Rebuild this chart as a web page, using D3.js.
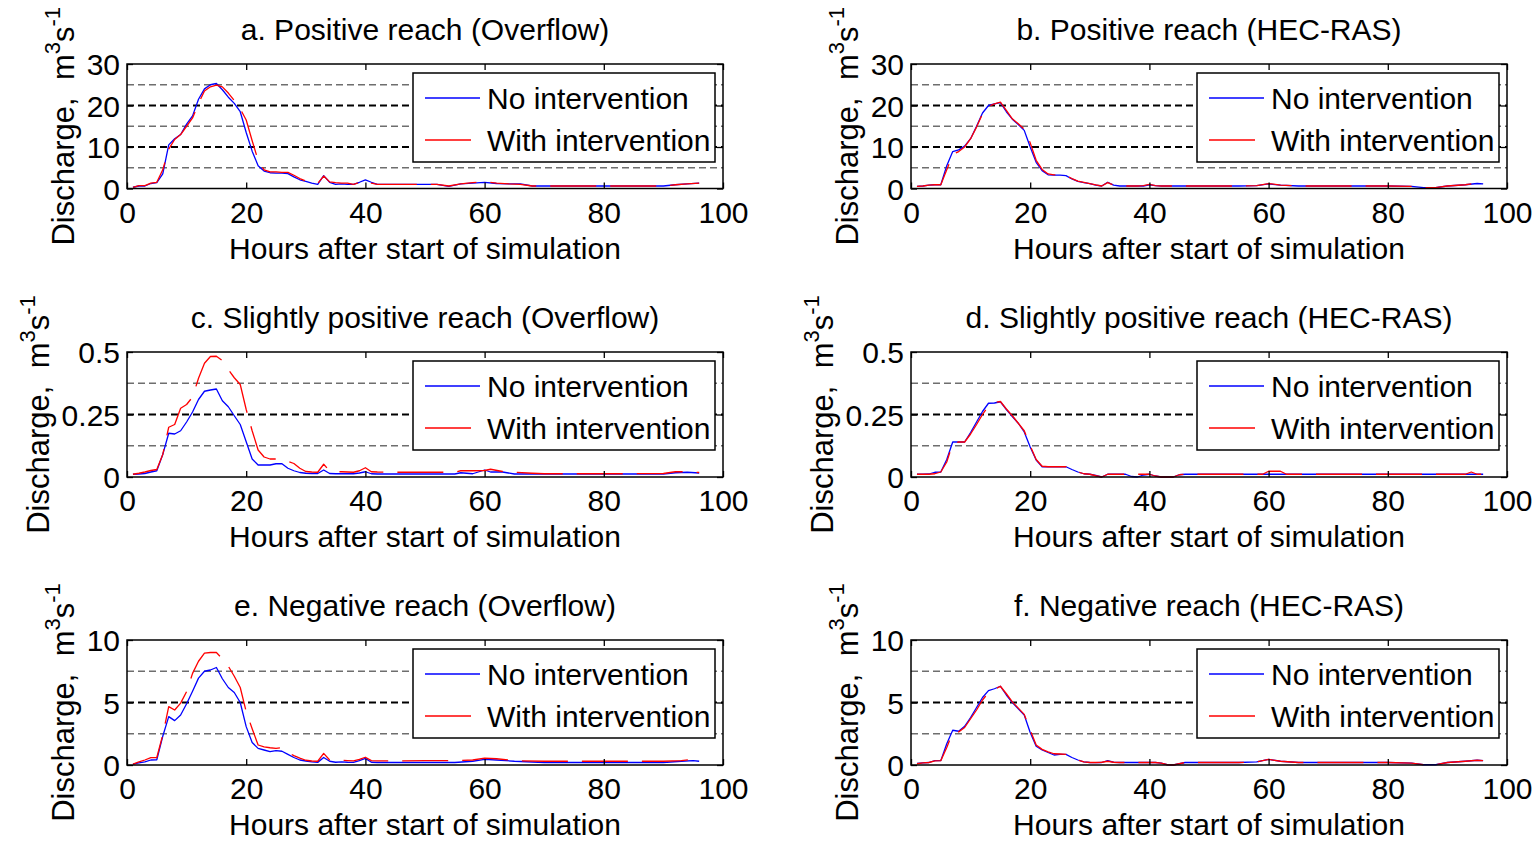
<!DOCTYPE html>
<html><head><meta charset="utf-8">
<script src="https://cdn.jsdelivr.net/npm/d3@7"></script>
<style>
body{margin:0;background:#fff}
svg{display:block}
text{font-family:"Liberation Sans",Arial,Helvetica,sans-serif;fill:#000}
</style>
</head><body>
<svg id="chart" width="1539" height="841"></svg>
<script>
// ---------------- DATA ----------------
const xTicks = [0, 20, 40, 60, 80, 100];
const seriesNames = ["No intervention", "With intervention"];
const xLabel = "Hours after start of simulation";

// Panel a
const hoursA = [1,2,3,4,5,6,7,8,9,10,11,12,13,14,15,16,17,18,19,20,21,22,23,24,25,26,27,28,29,30,31,32,33,34,35,36,37,38,39,40,41,42,50,52,54,56,58,60,62,64,66,68,75,80,85,90,92,94,96];
const noIntA = [0.3,0.6,0.6,1.2,1.4,3.5,10.5,12,13,15.5,17.5,21.5,24,25,25.3,23.8,22,20.5,18.5,13.5,9,5.5,4.2,3.8,3.7,3.7,3.6,2.8,2.1,1.7,1.3,1.0,3.1,1.5,1.0,1.1,1.0,1.0,1.5,2.1,1.5,1.0,
  1.0,1.0,0.5,1.1,1.3,1.5,1.2,1.1,1.1,0.6,0.6,0.6,0.6,0.6,0.9,1.1,1.3];
const withIntA = [0.3,0.7,0.7,1.3,1.5,4.5,9.5,11.8,13,15,17,20.5,23.5,24.5,24.9,24.5,23,21.2,19.2,16.5,11.5,6.8,4.5,4,4,3.9,3.9,3.2,2.4,1.8,1.4,1.2,3.0,1.6,1.4,1.3,1.3,1.0,1.5,2.0,1.3,1.0,
  1.0,1.0,0.6,1.1,1.4,1.6,1.3,1.1,1.0,0.6,0.6,0.6,0.6,0.6,0.9,1.1,1.3];

// Panel b
const hoursB = [1,2,3,4,5,6,7,8,9,10,11,12,13,14,15,16,17,18,19,20,21,22,23,24,25,26,27,28,29,30,31,32,33,34,35,36,37,38,39,40,41,42,45,50,55,58,60,62,65,70,75,80,84,86,88,90,93,95,96];
const noIntB = [0.5,0.6,0.8,0.9,0.9,5.5,8.9,9.3,10.2,12,15,18.2,20,20.4,20.7,18.5,16.7,15.4,14.0,10,6.3,4.3,3.3,3.2,3.2,3.1,2.3,1.7,1.4,1.2,0.8,0.6,1.5,0.8,0.6,0.6,0.6,0.6,0.6,0.9,0.7,0.6,
  0.6,0.6,0.6,0.7,1.1,0.8,0.6,0.6,0.6,0.6,0.5,0.2,0.2,0.6,0.9,1.2,1.1];
const withIntB = [0.5,0.6,0.8,0.9,0.9,4.5,8.2,8.9,10,12,14.8,18,19.8,20.4,20.8,18.8,16.8,15.6,14.3,11,6.8,4.6,3.5,3.3,3.2,3.1,2.4,1.8,1.5,1.2,0.9,0.6,1.4,0.8,0.6,0.6,0.6,0.6,0.7,1.0,0.7,0.6,
  0.6,0.6,0.6,0.7,1.2,0.8,0.6,0.6,0.6,0.6,0.5,0.2,0.2,0.6,0.9,1.3,1.0];

// Panel c
const hoursC = [1,2,3,4,5,6,7,8,9,10,11,12,13,14,15,16,17,18,19,20,21,22,23,24,25,26,27,28,29,30,31,32,33,34,35,36,37,38,39,40,41,42,45,50,53,55,56,58,60,61,63,65,68,70,75,80,85,90,92,94,96];
const noIntC = [0.011,0.012,0.014,0.020,0.025,0.09,0.175,0.172,0.185,0.22,0.26,0.31,0.343,0.348,0.352,0.305,0.281,0.245,0.21,0.141,0.072,0.048,0.048,0.048,0.053,0.053,0.035,0.025,0.018,0.015,0.014,0.014,0.028,0.014,0.013,0.013,0.013,0.013,0.016,0.021,0.013,0.012,
  0.012,0.012,0.012,0.012,0.017,0.013,0.028,0.02,0.02,0.012,0.012,0.012,0.012,0.012,0.012,0.012,0.017,0.019,0.016];
const withIntC = [0.011,0.015,0.02,0.026,0.03,0.09,0.199,0.21,0.275,0.29,0.32,0.395,0.455,0.482,0.483,0.466,0.43,0.397,0.37,0.27,0.185,0.108,0.08,0.072,0.072,0.068,0.062,0.054,0.035,0.022,0.02,0.019,0.051,0.024,0.021,0.021,0.02,0.019,0.025,0.037,0.021,0.02,
  0.019,0.019,0.019,0.019,0.025,0.025,0.026,0.031,0.022,0.019,0.015,0.013,0.013,0.013,0.013,0.014,0.021,0.021,0.018];

// Panel d
const hoursD = [1,2,3,4,5,6,7,8,9,10,11,12,13,14,15,16,17,18,19,20,21,22,23,24,25,26,27,28,29,30,31,32,33,34,35,36,37,38,39,40,41,42,43,44,45,46,50,55,59,60,62,63,65,70,75,80,85,90,93,94,95,96];
const noIntD = [0.011,0.011,0.012,0.019,0.02,0.07,0.14,0.14,0.14,0.178,0.22,0.262,0.295,0.296,0.301,0.27,0.242,0.215,0.18,0.12,0.068,0.041,0.041,0.041,0.041,0.041,0.03,0.02,0.013,0.011,0.006,0.0,0.011,0.011,0.011,0.011,0.002,0.0,0.008,0.011,0.004,0.0,0.0,0.0,0.009,0.011,
  0.011,0.011,0.011,0.011,0.011,0.011,0.011,0.011,0.011,0.011,0.011,0.011,0.011,0.011,0.011,0.011];
const withIntD = [0.011,0.011,0.011,0.013,0.02,0.06,0.135,0.14,0.14,0.172,0.21,0.25,0.285,0.298,0.302,0.272,0.245,0.215,0.185,0.125,0.07,0.043,0.041,0.041,0.041,0.041,0.032,0.02,0.013,0.011,0.005,0.0,0.011,0.011,0.011,0.011,0.011,0.011,0.011,0.011,0.004,0.0,0.0,0.0,0.009,0.011,
  0.011,0.011,0.011,0.023,0.023,0.011,0.011,0.011,0.011,0.011,0.011,0.011,0.011,0.02,0.011,0.011];

// Panel e
const hoursE = [1,2,3,4,5,6,7,8,9,10,11,12,13,14,15,16,17,18,19,20,21,22,23,24,25,26,27,28,29,30,31,32,33,34,35,36,37,38,39,40,41,42,45,50,55,58,60,62,65,70,75,80,85,90,93,95,96];
const noIntE = [0.07,0.17,0.25,0.4,0.42,2.3,3.87,3.55,4.0,4.9,5.9,6.95,7.5,7.6,7.8,6.9,6.2,5.8,5.0,3.07,1.8,1.33,1.2,1.07,1.15,1.1,0.85,0.6,0.4,0.32,0.25,0.21,0.6,0.3,0.22,0.25,0.22,0.21,0.35,0.53,0.22,0.2,
  0.2,0.2,0.2,0.3,0.45,0.4,0.3,0.2,0.2,0.2,0.2,0.2,0.3,0.35,0.3];
const withIntE = [0.07,0.25,0.4,0.59,0.6,2.4,4.67,4.4,4.95,5.87,7.33,8.3,8.95,9.0,9.0,8.5,7.9,7.1,6.2,4.27,2.9,1.6,1.45,1.38,1.33,1.38,1.0,0.75,0.55,0.38,0.32,0.3,0.93,0.4,0.35,0.38,0.35,0.33,0.45,0.62,0.35,0.33,
  0.33,0.35,0.35,0.4,0.55,0.5,0.35,0.3,0.3,0.3,0.3,0.3,0.35,0.45,0.4];

// Panel f
const hoursF = [1,2,3,4,5,6,7,8,9,10,11,12,13,14,15,16,17,18,19,20,21,22,23,24,25,26,27,28,29,30,31,32,33,34,35,36,37,38,39,40,41,42,43,44,45,46,50,55,58,60,62,65,70,75,80,84,86,88,90,93,95,96];
const noIntF = [0.13,0.17,0.2,0.35,0.35,1.7,2.78,2.7,3.1,3.8,4.6,5.4,5.95,6.1,6.3,5.6,5.0,4.5,4.0,2.6,1.5,1.2,1.0,0.8,0.85,0.85,0.6,0.4,0.25,0.2,0.19,0.2,0.35,0.22,0.2,0.2,0.2,0.2,0.2,0.2,0.2,0.15,0.02,0.0,0.1,0.2,
  0.2,0.2,0.25,0.45,0.3,0.2,0.2,0.2,0.2,0.15,0.02,0.02,0.2,0.3,0.38,0.35];
const withIntF = [0.1,0.17,0.2,0.33,0.35,1.4,2.6,2.65,3.0,3.7,4.4,5.2,5.8,6.05,6.3,5.7,5.05,4.55,4.05,2.8,1.6,1.25,1.05,0.9,0.88,0.85,0.6,0.4,0.25,0.2,0.2,0.22,0.3,0.22,0.2,0.2,0.2,0.2,0.2,0.2,0.2,0.15,0.02,0.0,0.1,0.2,
  0.2,0.2,0.25,0.45,0.3,0.2,0.2,0.2,0.2,0.15,0.02,0.02,0.2,0.3,0.38,0.35];

// Axis settings per row
const yTicksRow = [[0,10,20,30],[0,0.25,0.5],[0,5,10]];
const yTickLabelsRow = [["0","10","20","30"],["0","0.25","0.5"],["0","5","10"]];
const yMinorRow = [[5,15,25],[0.125,0.375],[2.5,7.5]];
const yMaxRow = [30, 0.5, 10];

const titles = ["a. Positive reach (Overflow)","b. Positive reach (HEC-RAS)",
  "c. Slightly positive reach (Overflow)","d. Slightly positive reach (HEC-RAS)",
  "e. Negative reach (Overflow)","f. Negative reach (HEC-RAS)"];

const panels = [
  {t:titles[0], h:hoursA, s:[noIntA, withIntA], row:0, col:0},
  {t:titles[1], h:hoursB, s:[noIntB, withIntB], row:0, col:1},
  {t:titles[2], h:hoursC, s:[noIntC, withIntC], row:1, col:0},
  {t:titles[3], h:hoursD, s:[noIntD, withIntD], row:1, col:1},
  {t:titles[4], h:hoursE, s:[noIntE, withIntE], row:2, col:0},
  {t:titles[5], h:hoursF, s:[noIntF, withIntF], row:2, col:1}
];

// ---------------- LAYOUT ----------------
const colX = [[127,723],[911,1507]];
const rowY = [[64,188.5],[352,477],[640,765]];
const colors = ["#0000ff","#ff0000"];
const FS = 30;

const svg = d3.select("#chart");

panels.forEach(p => {
  const [x0,x1] = colX[p.col];
  const [yTop,yBot] = rowY[p.row];
  const x = d3.scaleLinear().domain([0,100]).range([x0,x1]);
  const y = d3.scaleLinear().domain([0,yMaxRow[p.row]]).range([yBot,yTop]);
  const g = svg.append("g");

  // grid lines
  g.selectAll(".minor").data(yMinorRow[p.row]).enter().append("line")
    .attr("x1",x0).attr("x2",x1).attr("y1",d=>y(d)).attr("y2",d=>y(d))
    .attr("stroke","#6e6e6e").attr("stroke-width",1.4).attr("stroke-dasharray","7,4");
  g.selectAll(".major").data(yTicksRow[p.row].slice(1,-1)).enter().append("line")
    .attr("x1",x0).attr("x2",x1).attr("y1",d=>y(d)).attr("y2",d=>y(d))
    .attr("stroke","#000").attr("stroke-width",2).attr("stroke-dasharray","7,4");

  // series lines
  p.s.forEach((vals,i) => {
    const line = d3.line().x((d,k)=>x(p.h[k])).y(d=>y(d));
    const path = g.append("path").datum(vals).attr("d",line)
      .attr("fill","none").attr("stroke",colors[i]).attr("stroke-width",1.3)
      .attr("stroke-linejoin","round");
    if (i===1) path.attr("stroke-dasharray","46,14");
  });

  // axes with inward ticks
  const xb = d3.axisBottom(x).tickValues(xTicks).tickSizeInner(-6).tickSizeOuter(0).tickPadding(12);
  const xt = d3.axisTop(x).tickValues(xTicks).tickSizeInner(-6).tickSizeOuter(0).tickFormat("");
  const yl = d3.axisLeft(y).tickValues(yTicksRow[p.row]).tickSizeInner(-6).tickSizeOuter(0).tickPadding(12)
    .tickFormat((d,i)=>yTickLabelsRow[p.row][i]);
  const yr = d3.axisRight(y).tickValues(yTicksRow[p.row]).tickSizeInner(-6).tickSizeOuter(0).tickFormat("");

  const gxb = g.append("g").attr("transform",`translate(0,${yBot})`).call(xb);
  g.append("g").attr("transform",`translate(0,${yTop})`).call(xt);
  const gyl = g.append("g").attr("transform",`translate(${x0},0)`).call(yl);
  g.append("g").attr("transform",`translate(${x1},0)`).call(yr);
  g.selectAll(".domain").remove();
  g.selectAll(".tick line").attr("stroke","#000").attr("stroke-width",1.3);
  gxb.selectAll("text").attr("font-size",FS).attr("font-family","Liberation Sans, Arial, sans-serif")
    .attr("dy",null).attr("y",34).attr("dominant-baseline","auto");
  gyl.selectAll("text").attr("font-size",FS).attr("font-family","Liberation Sans, Arial, sans-serif")
    .attr("dy","0.36em").attr("x",-7);
  g.selectAll(".tick text").attr("fill","#000");

  // width of widest y tick label -> y-label offset
  let maxW = 0;
  gyl.selectAll("text").each(function(){ maxW = Math.max(maxW, this.getBBox().width); });

  // box
  g.append("rect").attr("x",x0).attr("y",yTop).attr("width",x1-x0).attr("height",yBot-yTop)
    .attr("fill","none").attr("stroke","#000").attr("stroke-width",1.5);

  // legend
  const lx = x0 + 286, ly = yTop + 9, lw = 302, lh = 89;
  const lg = g.append("g");
  lg.append("rect").attr("x",lx).attr("y",ly).attr("width",lw).attr("height",lh)
    .attr("fill","#fff").attr("stroke","#000").attr("stroke-width",1.5);
  seriesNames.forEach((nm,i) => {
    const yy = ly + 25 + i*42;
    const ln = lg.append("line").attr("x1",lx+12).attr("x2",lx+67).attr("y1",yy).attr("y2",yy)
      .attr("stroke",colors[i]).attr("stroke-width",1.3);
    if (i===1) ln.attr("stroke-dasharray","46,14");
    lg.append("text").attr("x",lx+74).attr("y",yy+11).attr("font-size",FS).text(nm);
  });

  // title
  g.append("text").attr("x",(x0+x1)/2).attr("y",yTop-24).attr("text-anchor","middle")
    .attr("font-size",FS).text(p.t);
  // x label
  g.append("text").attr("x",(x0+x1)/2).attr("y",yBot+70).attr("text-anchor","middle")
    .attr("font-size",FS).text(xLabel);
  // y label
  const off = maxW + 20;
  const yl2 = g.append("text").attr("transform",`translate(${x0-off},${(yTop+yBot)/2}) rotate(-90)`)
    .attr("text-anchor","middle").attr("font-size",31);
  yl2.append("tspan").text("Discharge,\u00a0\u00a0m");
  yl2.append("tspan").attr("dy",-14).attr("font-size",22).text("3");
  yl2.append("tspan").attr("dy",14).text("s");
  yl2.append("tspan").attr("dy",-14).attr("font-size",22).text("-1");
});
</script>
</body></html>
